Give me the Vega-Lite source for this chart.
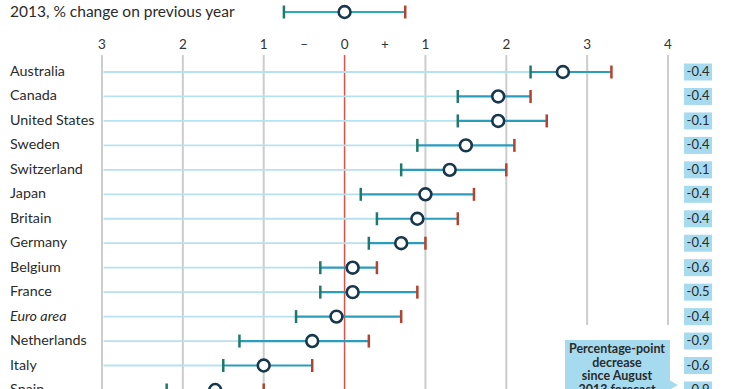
{
  "$schema": "https://vega.github.io/schema/vega-lite/v6.json",
  "width": 740,
  "height": 389,
  "padding": 0,
  "autosize": {"type": "none"},
  "background": "white",
  "config": {"view": {"stroke": null}, "font": "Lato"},
  "datasets": {
    "countries": [
      {"country": "Australia", "row": 1, "lo": 2.3, "mid": 2.7, "hi": 3.3, "chg": "-0.4", "style": "normal"},
      {"country": "Canada", "row": 2, "lo": 1.4, "mid": 1.9, "hi": 2.3, "chg": "-0.4", "style": "normal"},
      {"country": "United States", "row": 3, "lo": 1.4, "mid": 1.9, "hi": 2.5, "chg": "-0.1", "style": "normal"},
      {"country": "Sweden", "row": 4, "lo": 0.9, "mid": 1.5, "hi": 2.1, "chg": "-0.4", "style": "normal"},
      {"country": "Switzerland", "row": 5, "lo": 0.7, "mid": 1.3, "hi": 2.0, "chg": "-0.1", "style": "normal"},
      {"country": "Japan", "row": 6, "lo": 0.2, "mid": 1.0, "hi": 1.6, "chg": "-0.4", "style": "normal"},
      {"country": "Britain", "row": 7, "lo": 0.4, "mid": 0.9, "hi": 1.4, "chg": "-0.4", "style": "normal"},
      {"country": "Germany", "row": 8, "lo": 0.3, "mid": 0.7, "hi": 1.0, "chg": "-0.4", "style": "normal"},
      {"country": "Belgium", "row": 9, "lo": -0.3, "mid": 0.1, "hi": 0.4, "chg": "-0.6", "style": "normal"},
      {"country": "France", "row": 10, "lo": -0.3, "mid": 0.1, "hi": 0.9, "chg": "-0.5", "style": "normal"},
      {"country": "Euro area", "row": 11, "lo": -0.6, "mid": -0.1, "hi": 0.7, "chg": "-0.4", "style": "italic"},
      {"country": "Netherlands", "row": 12, "lo": -1.3, "mid": -0.4, "hi": 0.3, "chg": "-0.9", "style": "normal"},
      {"country": "Italy", "row": 13, "lo": -1.5, "mid": -1.0, "hi": -0.4, "chg": "-0.6", "style": "normal"},
      {"country": "Spain", "row": 14, "lo": -2.2, "mid": -1.6, "hi": -1.0, "chg": "-0.9", "style": "normal"}
    ],
    "grid": [
      {"v": -3, "kind": "full"}, {"v": -2, "kind": "full"}, {"v": -1, "kind": "full"},
      {"v": 1, "kind": "full"}, {"v": 2, "kind": "full"},
      {"v": 3, "kind": "short"}, {"v": 4, "kind": "short"}
    ],
    "ticks": [
      {"v": -3, "t": "3"}, {"v": -2, "t": "2"}, {"v": -1, "t": "1"}, {"v": -0.5, "t": "–"},
      {"v": 0, "t": "0"}, {"v": 0.5, "t": "+"}, {"v": 1, "t": "1"}, {"v": 2, "t": "2"},
      {"v": 3, "t": "3"}, {"v": 4, "t": "4"}
    ],
    "legend": [{"lo": -0.75, "mid": 0, "hi": 0.75}]
  },
  "layer": [
    {
      "data": {"name": "grid"},
      "transform": [{"filter": "datum.kind == 'full'"}],
      "mark": {"type": "rule", "color": "#cccccc", "strokeWidth": 2},
      "encoding": {
        "x": {"field": "v", "type": "quantitative", "scale": {"domain": [-4.261, 4.89], "nice": false, "zero": false}, "axis": null},
        "y": {"datum": 0.305, "type": "quantitative", "scale": {"domain": [-1.944, 13.96], "reverse": true, "nice": false, "zero": false}, "axis": null},
        "y2": {"datum": 16}
      }
    },
    {
      "data": {"name": "grid"},
      "transform": [{"filter": "datum.kind == 'short'"}],
      "mark": {"type": "rule", "color": "#cccccc", "strokeWidth": 2},
      "encoding": {
        "x": {"field": "v", "type": "quantitative"},
        "y": {"datum": 0.305, "type": "quantitative"},
        "y2": {"datum": 11.344}
      }
    },
    {
      "data": {"values": [{"v": 0}]},
      "mark": {"type": "rule", "color": "#d9534a", "strokeWidth": 1.5},
      "encoding": {
        "x": {"field": "v", "type": "quantitative"},
        "y": {"datum": 0.305, "type": "quantitative"},
        "y2": {"datum": 16}
      }
    },
    {
      "data": {"name": "countries"},
      "mark": {"type": "rule", "color": "#b8e1ef", "strokeWidth": 1.8},
      "encoding": {
        "x": {"field": "lo", "type": "quantitative"},
        "x2": {"datum": -2.98},
        "y": {"field": "row", "type": "quantitative"}
      }
    },
    {
      "data": {"name": "countries"},
      "mark": {"type": "rule", "color": "#2a9dbf", "strokeWidth": 2.2},
      "encoding": {
        "x": {"field": "lo", "type": "quantitative"},
        "x2": {"field": "hi"},
        "y": {"field": "row", "type": "quantitative"}
      }
    },
    {
      "data": {"name": "countries"},
      "mark": {"type": "point", "shape": "M0,-1L0,1", "size": 169, "filled": false, "color": "#1d7a6b", "strokeWidth": 2.5, "opacity": 1},
      "encoding": {
        "x": {"field": "lo", "type": "quantitative"},
        "y": {"field": "row", "type": "quantitative"}
      }
    },
    {
      "data": {"name": "countries"},
      "mark": {"type": "point", "shape": "M0,-1L0,1", "size": 169, "filled": false, "color": "#b5412f", "strokeWidth": 2.5, "opacity": 1},
      "encoding": {
        "x": {"field": "hi", "type": "quantitative"},
        "y": {"field": "row", "type": "quantitative"}
      }
    },
    {
      "data": {"name": "countries"},
      "mark": {"type": "point", "shape": "circle", "size": 140, "fill": "white", "filled": true, "stroke": "#17374d", "strokeWidth": 2.6, "opacity": 1},
      "encoding": {
        "x": {"field": "mid", "type": "quantitative"},
        "y": {"field": "row", "type": "quantitative"}
      }
    },
    {
      "data": {"name": "countries"},
      "transform": [{"filter": "datum.style == 'normal'"}],
      "mark": {"type": "text", "align": "left", "baseline": "middle", "fontSize": 14.3, "color": "#2b2b2b"},
      "encoding": {
        "x": {"datum": -4.137, "type": "quantitative"},
        "y": {"field": "row", "type": "quantitative"},
        "text": {"field": "country"}
      }
    },
    {
      "data": {"name": "countries"},
      "transform": [{"filter": "datum.style == 'italic'"}],
      "mark": {"type": "text", "align": "left", "baseline": "middle", "fontSize": 14.3, "fontStyle": "italic", "color": "#2b2b2b"},
      "encoding": {
        "x": {"datum": -4.137, "type": "quantitative"},
        "y": {"field": "row", "type": "quantitative"},
        "text": {"field": "country"}
      }
    },
    {
      "data": {"name": "countries"},
      "mark": {"type": "point", "shape": "M-1,-0.607L1,-0.607L1,0.607L-1,0.607Z", "size": 784, "filled": true, "color": "#a6dbef", "opacity": 1, "strokeWidth": 0},
      "encoding": {
        "x": {"datum": 4.371, "type": "quantitative"},
        "y": {"field": "row", "type": "quantitative"}
      }
    },
    {
      "data": {"name": "countries"},
      "mark": {"type": "text", "align": "center", "baseline": "middle", "fontSize": 13, "color": "#2b2b2b"},
      "encoding": {
        "x": {"datum": 4.371, "type": "quantitative"},
        "y": {"field": "row", "type": "quantitative"},
        "text": {"field": "chg"}
      }
    },
    {
      "data": {"values": [{"a": 1}]},
      "mark": {"type": "rect", "color": "#a6dbef", "opacity": 1},
      "encoding": {
        "x": {"datum": 2.726, "type": "quantitative"},
        "x2": {"datum": 4.024},
        "y": {"datum": 11.957, "type": "quantitative"},
        "y2": {"datum": 16}
      }
    },
    {
      "data": {"values": [{"a": 1}]},
      "mark": {"type": "point", "shape": "triangle-right", "size": 90, "filled": true, "color": "#a6dbef", "opacity": 1},
      "encoding": {
        "x": {"datum": 4.07, "type": "quantitative"},
        "y": {"datum": 13.8, "type": "quantitative"}
      }
    },
    {
      "data": {"values": [{"note": ["Percentage-point", "decrease", "since August", "2013 forecast"]}]},
      "mark": {"type": "text", "align": "center", "baseline": "middle", "fontSize": 12.5, "fontWeight": "bold", "lineHeight": 13.5, "color": "#2b2b2b"},
      "encoding": {
        "x": {"datum": 3.369, "type": "quantitative"},
        "y": {"datum": 12.325, "type": "quantitative"},
        "text": {"field": "note"}
      }
    },
    {
      "data": {"name": "ticks"},
      "mark": {"type": "text", "align": "center", "baseline": "middle", "fontSize": 13.5, "color": "#333333"},
      "encoding": {
        "x": {"field": "v", "type": "quantitative"},
        "y": {"datum": -0.104, "type": "quantitative"},
        "text": {"field": "t"}
      }
    },
    {
      "data": {"name": "legend"},
      "mark": {"type": "rule", "color": "#2aa9bf", "strokeWidth": 2.2},
      "encoding": {
        "x": {"field": "lo", "type": "quantitative"},
        "x2": {"field": "hi"},
        "y": {"datum": -1.453, "type": "quantitative"}
      }
    },
    {
      "data": {"name": "legend"},
      "mark": {"type": "point", "shape": "M0,-1L0,1", "size": 169, "filled": false, "color": "#1d7a6b", "strokeWidth": 2.5, "opacity": 1},
      "encoding": {
        "x": {"field": "lo", "type": "quantitative"},
        "y": {"datum": -1.453, "type": "quantitative"}
      }
    },
    {
      "data": {"name": "legend"},
      "mark": {"type": "point", "shape": "M0,-1L0,1", "size": 169, "filled": false, "color": "#b5412f", "strokeWidth": 2.5, "opacity": 1},
      "encoding": {
        "x": {"field": "hi", "type": "quantitative"},
        "y": {"datum": -1.453, "type": "quantitative"}
      }
    },
    {
      "data": {"name": "legend"},
      "mark": {"type": "point", "shape": "circle", "size": 140, "fill": "white", "filled": true, "stroke": "#17374d", "strokeWidth": 2.6, "opacity": 1},
      "encoding": {
        "x": {"field": "mid", "type": "quantitative"},
        "y": {"datum": -1.453, "type": "quantitative"}
      }
    },
    {
      "data": {"values": [{"t": "2013, % change on previous year"}]},
      "mark": {"type": "text", "align": "left", "baseline": "middle", "fontSize": 15.5, "color": "#2b2b2b"},
      "encoding": {
        "x": {"datum": -4.137, "type": "quantitative"},
        "y": {"datum": -1.453, "type": "quantitative"},
        "text": {"field": "t"}
      }
    }
  ]
}
